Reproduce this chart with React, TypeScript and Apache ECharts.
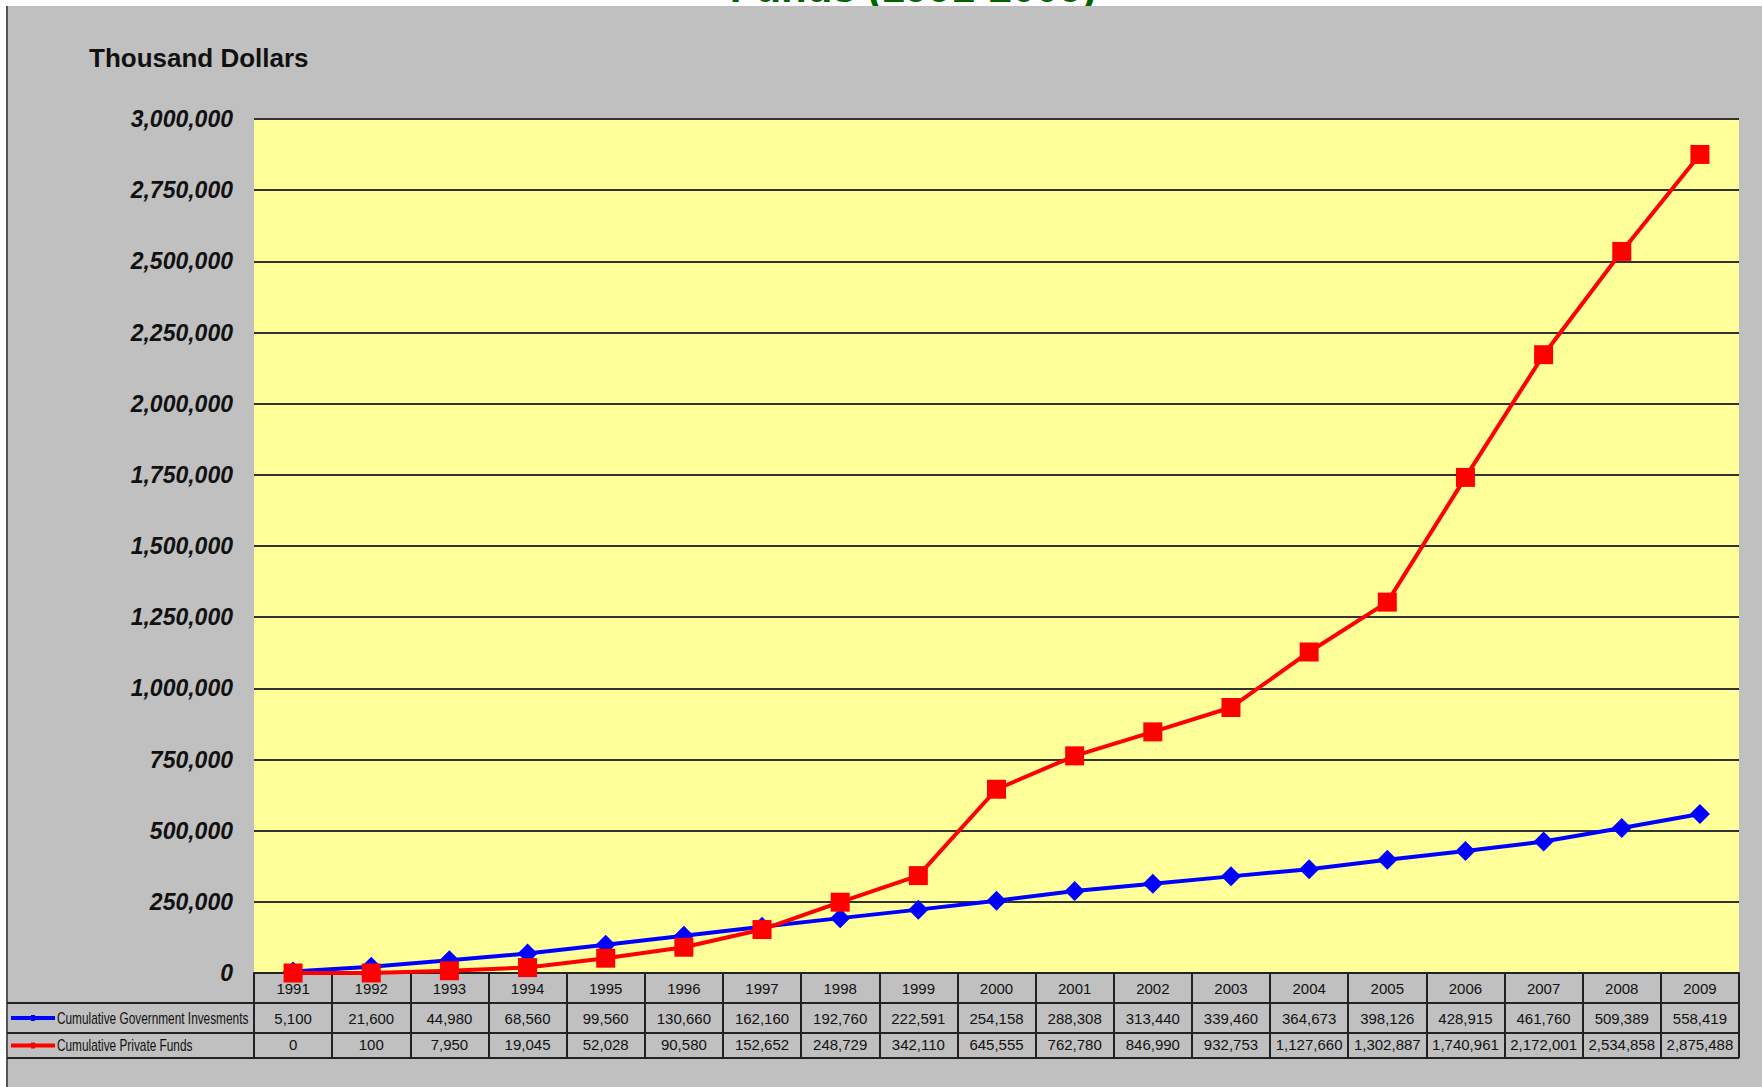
import React, { useEffect, useRef } from "react";
import * as echarts from "echarts";

const years = ["1991","1992","1993","1994","1995","1996","1997","1998","1999","2000","2001","2002","2003","2004","2005","2006","2007","2008","2009"];
const govValues = [5100,21600,44980,68560,99560,130660,162160,192760,222591,254158,288308,313440,339460,364673,398126,428915,461760,509389,558419];
const privValues = [0,100,7950,19045,52028,90580,152652,248729,342110,645555,762780,846990,932753,1127660,1302887,1740961,2172001,2534858,2875488];
const govName = "Cumulative Government Invesments";
const privName = "Cumulative Private Funds";
const unitLabel = "Thousand Dollars";
const topTitle = "Funds (1991-2009)";

const fmt = (v: number) => v.toLocaleString("en-US");
const arial = "'Liberation Sans', Arial, sans-serif";

const W = 1762, H = 1087;
const gLeft = 254, gRight = 1739, gTop = 119, gBottom = 973;
const rowA = 1003, rowB = 1033, rowC = 1058;

export default function App() {
  const ref = useRef<HTMLDivElement>(null);
  useEffect(() => {
    if (!ref.current) return;
    const chart = echarts.init(ref.current, null, { renderer: "svg" });
    const tableLabel = { interval: 0, margin: 8, fontSize: 15, fontFamily: arial, color: "#111" };
    chart.setOption({
      animation: false,
      backgroundColor: "#C0C0C0",
      grid: {
        left: gLeft, right: W - gRight, top: gTop, bottom: H - gBottom,
        show: true, backgroundColor: "#FFFF99", borderWidth: 0,
      },
      xAxis: [
        {
          type: "category", data: years, boundaryGap: true, position: "bottom",
          axisLine: { show: true, lineStyle: { color: "#222", width: 2 } },
          axisTick: { show: true, interval: 0, length: rowC - gBottom, lineStyle: { color: "#222", width: 2 } },
          axisLabel: tableLabel,
          splitLine: { show: false },
        },
        {
          type: "category", data: govValues.map(fmt), boundaryGap: true, position: "bottom", offset: 30,
          axisLine: { show: false }, axisTick: { show: false }, axisLabel: tableLabel, splitLine: { show: false },
        },
        {
          type: "category", data: privValues.map(fmt), boundaryGap: true, position: "bottom", offset: 56,
          axisLine: { show: false }, axisTick: { show: false }, axisLabel: tableLabel, splitLine: { show: false },
        },
      ],
      yAxis: {
        type: "value", min: 0, max: 3000000, interval: 250000,
        axisLine: { show: false }, axisTick: { show: false },
        splitLine: { lineStyle: { color: "#333", width: 2 } },
        axisLabel: {
          formatter: (v: number) => fmt(v), fontSize: 23, fontWeight: "bold", fontStyle: "italic",
          color: "#111", margin: 21, fontFamily: arial,
        },
      },
      series: [
        {
          name: govName, type: "line", data: govValues, xAxisIndex: 0,
          symbol: "diamond", symbolSize: 20,
          lineStyle: { color: "#0000FF", width: 4 },
          itemStyle: { color: "#0000FF" },
          z: 2,
        },
        {
          name: privName, type: "line", data: privValues, xAxisIndex: 0,
          symbol: "rect", symbolSize: 19,
          lineStyle: { color: "#FF0000", width: 4 },
          itemStyle: { color: "#FF0000" },
          z: 3,
        },
      ],
      graphic: [
        { type: "rect", shape: { x: 0, y: 0, width: W, height: 6 }, style: { fill: "#FFFFFF" }, z: 1 },
        { type: "rect", shape: { x: 0, y: 0, width: 6, height: H }, style: { fill: "#FFFFFF" }, z: 1 },
        {
          type: "text", x: 913, y: -13, z: 2,
          style: { text: topTitle, fill: "#006400", font: "bold 42px " + arial, textAlign: "center", textVerticalAlign: "middle" },
        },
        { type: "rect", shape: { x: 8, y: 6, width: W - 8, height: 34 }, style: { fill: "#C0C0C0" }, z: 3 },
        { type: "line", shape: { x1: 7, y1: 6, x2: 7, y2: H }, style: { stroke: "#555", lineWidth: 2 }, z: 4 },
        {
          type: "text", x: 89, y: 58, z: 4,
          style: { text: unitLabel, fill: "#111", font: "bold 26px " + arial, textVerticalAlign: "middle" },
        },
        { type: "line", shape: { x1: 7, y1: rowA, x2: gRight, y2: rowA }, style: { stroke: "#222", lineWidth: 2 }, z: 4 },
        { type: "line", shape: { x1: 7, y1: rowB, x2: gRight, y2: rowB }, style: { stroke: "#222", lineWidth: 2 }, z: 4 },
        { type: "line", shape: { x1: 7, y1: rowC, x2: gRight, y2: rowC }, style: { stroke: "#222", lineWidth: 2 }, z: 4 },
        { type: "line", shape: { x1: gLeft, y1: rowA, x2: gLeft, y2: rowC }, style: { stroke: "#222", lineWidth: 2 }, z: 4 },
        { type: "line", shape: { x1: 11, y1: (rowA + rowB) / 2, x2: 55, y2: (rowA + rowB) / 2 }, style: { stroke: "#0000FF", lineWidth: 4 }, z: 4 },
        { type: "rect", shape: { x: 31, y: (rowA + rowB) / 2 - 3, width: 4, height: 6 }, style: { fill: "#0000FF" }, z: 4 },
        { type: "line", shape: { x1: 11, y1: (rowB + rowC) / 2, x2: 55, y2: (rowB + rowC) / 2 }, style: { stroke: "#FF0000", lineWidth: 4 }, z: 4 },
        { type: "rect", shape: { x: 31, y: (rowB + rowC) / 2 - 3, width: 4, height: 6 }, style: { fill: "#FF0000" }, z: 4 },
        {
          type: "text", x: 57, y: (rowA + rowB) / 2, z: 4, scaleX: 0.74,
          style: { text: govName, fill: "#111", font: "16px " + arial, textVerticalAlign: "middle" },
        },
        {
          type: "text", x: 57, y: (rowB + rowC) / 2, z: 4, scaleX: 0.74,
          style: { text: privName, fill: "#111", font: "16px " + arial, textVerticalAlign: "middle" },
        },
      ],
    });
    return () => chart.dispose();
  }, []);
  return (
    <div
      ref={ref}
      style={{ position: "fixed", left: 0, top: 0, width: W, height: H, background: "#fff" }}
    />
  );
}
